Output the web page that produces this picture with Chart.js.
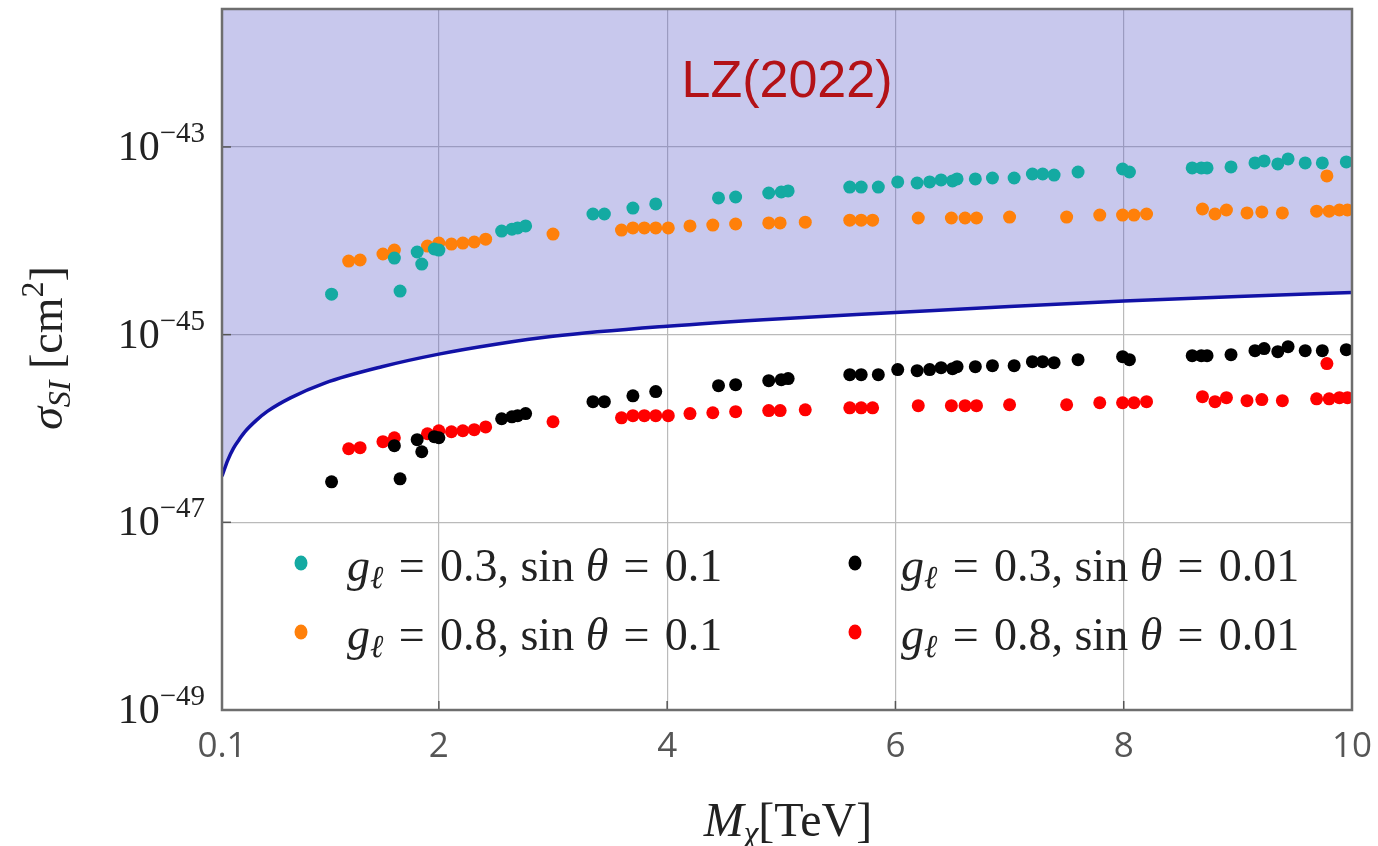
<!DOCTYPE html>
<html><head><meta charset="utf-8">
<script src="https://cdn.jsdelivr.net/npm/chart.js@4.4.1/dist/chart.umd.min.js"></script>
<style>html,body{margin:0;padding:0;background:#fff;}canvas{display:block;}</style>
</head><body>
<canvas id="c" width="1378" height="846"></canvas>
<script>
// ---------- data ----------
const massCyan = [1.06,1.61,1.66,1.81,1.85,1.96,2.00,2.55,2.64,2.69,2.76,3.35,3.45,3.70,3.90,4.45,4.60,4.89,5.00,5.06,5.60,5.70,5.85,6.02,6.19,6.30,6.40,6.50,6.54,6.70,6.85,7.04,7.20,7.29,7.39,7.60,7.99,8.05,8.60,8.68,8.73,8.94,9.15,9.23,9.35,9.44,9.59,9.74,9.95];
const sigmaCyan = [2.70e-45,6.55e-45,2.91e-45,7.59e-45,5.65e-45,8.17e-45,7.96e-45,1.27e-44,1.33e-44,1.37e-44,1.44e-44,1.93e-44,1.93e-44,2.23e-44,2.47e-44,2.86e-44,2.93e-44,3.23e-44,3.31e-44,3.40e-44,3.74e-44,3.74e-44,3.74e-44,4.24e-44,4.13e-44,4.24e-44,4.45e-44,4.34e-44,4.56e-44,4.56e-44,4.67e-44,4.67e-44,5.15e-44,5.15e-44,5.02e-44,5.41e-44,5.82e-44,5.41e-44,5.97e-44,5.97e-44,5.97e-44,6.12e-44,6.75e-44,7.10e-44,6.59e-44,7.45e-44,6.75e-44,6.75e-44,6.92e-44];

const massOrange = [1.21,1.31,1.51,1.61,1.90,2.00,2.11,2.21,2.31,2.41,3.00,3.60,3.70,3.80,3.90,4.01,4.20,4.40,4.60,4.89,4.99,5.21,5.60,5.70,5.80,6.20,6.49,6.61,6.71,7.00,7.50,7.79,7.99,8.09,8.20,8.69,8.80,8.90,9.08,9.21,9.39,9.69,9.80,9.89,9.96,9.78];
const sigmaOrange = [6.08e-45,6.24e-45,7.23e-45,7.96e-45,8.79e-45,9.46e-45,9.23e-45,9.46e-45,9.71e-45,1.04e-44,1.18e-44,1.30e-44,1.37e-44,1.37e-44,1.37e-44,1.37e-44,1.44e-44,1.47e-44,1.51e-44,1.55e-44,1.55e-44,1.58e-44,1.66e-44,1.66e-44,1.66e-44,1.75e-44,1.75e-44,1.75e-44,1.75e-44,1.79e-44,1.79e-44,1.88e-44,1.88e-44,1.88e-44,1.93e-44,2.18e-44,1.93e-44,2.13e-44,1.98e-44,2.03e-44,1.98e-44,2.07e-44,2.07e-44,2.13e-44,2.13e-44,4.91e-44];

const massBlack = [1.06,1.61,1.66,1.81,1.85,1.96,2.00,2.55,2.64,2.69,2.76,3.35,3.45,3.70,3.90,4.45,4.60,4.89,5.00,5.06,5.60,5.70,5.85,6.02,6.19,6.30,6.40,6.50,6.54,6.70,6.85,7.04,7.20,7.29,7.39,7.60,7.99,8.05,8.60,8.68,8.73,8.94,9.15,9.23,9.35,9.44,9.59,9.74,9.95];
const sigmaBlack = [2.70e-47,6.55e-47,2.91e-47,7.59e-47,5.65e-47,8.17e-47,7.96e-47,1.27e-46,1.33e-46,1.37e-46,1.44e-46,1.93e-46,1.93e-46,2.23e-46,2.47e-46,2.86e-46,2.93e-46,3.23e-46,3.31e-46,3.40e-46,3.74e-46,3.74e-46,3.74e-46,4.24e-46,4.13e-46,4.24e-46,4.45e-46,4.34e-46,4.56e-46,4.56e-46,4.67e-46,4.67e-46,5.15e-46,5.15e-46,5.02e-46,5.41e-46,5.82e-46,5.41e-46,5.97e-46,5.97e-46,5.97e-46,6.12e-46,6.75e-46,7.10e-46,6.59e-46,7.45e-46,6.75e-46,6.75e-46,6.92e-46];

const massRed = [1.21,1.31,1.51,1.61,1.90,2.00,2.11,2.21,2.31,2.41,3.00,3.60,3.70,3.80,3.90,4.01,4.20,4.40,4.60,4.89,4.99,5.21,5.60,5.70,5.80,6.20,6.49,6.61,6.71,7.00,7.50,7.79,7.99,8.09,8.20,8.69,8.80,8.90,9.08,9.21,9.39,9.69,9.80,9.89,9.96,9.78];
const sigmaRed = [6.08e-47,6.24e-47,7.23e-47,7.96e-47,8.79e-47,9.46e-47,9.23e-47,9.46e-47,9.71e-47,1.04e-46,1.18e-46,1.30e-46,1.37e-46,1.37e-46,1.37e-46,1.37e-46,1.44e-46,1.47e-46,1.51e-46,1.55e-46,1.55e-46,1.58e-46,1.66e-46,1.66e-46,1.66e-46,1.75e-46,1.75e-46,1.75e-46,1.75e-46,1.79e-46,1.79e-46,1.88e-46,1.88e-46,1.88e-46,1.93e-46,2.18e-46,1.93e-46,2.13e-46,1.98e-46,2.03e-46,1.98e-46,2.07e-46,2.07e-46,2.13e-46,2.13e-46,4.91e-46];

const lzMass  = [0.10,0.15,0.20,0.25,0.30,0.40,0.50,0.70,1.00,1.50,2.00,2.50,3.00,4.00,5.00,6.00,7.00,8.00,9.00,10.0];
const lzSigma = [3.10e-47,4.58e-47,6.15e-47,7.60e-47,9.20e-47,1.22e-46,1.53e-46,2.12e-46,3.05e-46,4.55e-46,6.20e-46,7.90e-46,9.60e-46,1.23e-45,1.48e-45,1.72e-45,2.00e-45,2.28e-45,2.55e-45,2.82e-45];

const xTickValues = [0.1,2,4,6,8,10];
const xTickLabels = ['0.1','2','4','6','8','10'];
const yTickValues = [1e-49,1e-47,1e-45,1e-43];
const yTickExponents = ['\u221249','\u221247','\u221245','\u221243'];

const legendCoupling = ['0.3','0.8','0.3','0.8'];
const legendMixing = ['0.1','0.1','0.01','0.01'];
const seriesColors = ['#14aaa2','#ff800a','#000000','#ff0000'];
const limitLabel = 'LZ(2022)';

// ---------- chart ----------
const toPts = (xs, ys) => xs.map((v, i) => ({x: v, y: ys[i]}));
const SERIF = '"Liberation Serif", "DejaVu Serif", serif';
const SP = '\u2004';

function drawRuns(ctx, runs, x, y, align) {
  let total = 0;
  runs.forEach(r => { ctx.font = (r.italic ? 'italic ' : '') + r.size + 'px ' + SERIF; r.w = ctx.measureText(r.t).width; total += r.w; });
  let cx = align === 'right' ? x - total : align === 'center' ? x - total / 2 : x;
  ctx.textAlign = 'left';
  ctx.textBaseline = 'alphabetic';
  runs.forEach(r => { ctx.font = (r.italic ? 'italic ' : '') + r.size + 'px ' + SERIF; ctx.fillText(r.t, cx, y + (r.dy || 0)); cx += r.w; });
  return total;
}

const overlay = {
  id: 'overlay',
  afterDraw(chart) {
    const {ctx, chartArea: a, scales: {x, y}} = chart;
    ctx.save();
    ctx.strokeStyle = '#555'; ctx.lineWidth = 1.5;
    xTickValues.slice(1, -1).forEach(v => { const px = x.getPixelForValue(v); ctx.beginPath(); ctx.moveTo(px, a.bottom); ctx.lineTo(px, a.bottom - 9); ctx.stroke(); });
    yTickValues.slice(1).forEach(v => { const py = y.getPixelForValue(v); ctx.beginPath(); ctx.moveTo(a.left, py); ctx.lineTo(a.left + 9, py); ctx.stroke(); });
    ctx.strokeStyle = '#6e6e6e'; ctx.lineWidth = 2.5;
    ctx.strokeRect(a.left, a.top, a.right - a.left, a.bottom - a.top);

    ctx.fillStyle = '#222';
    yTickValues.forEach((v, i) => {
      const py = y.getPixelForValue(v);
      drawRuns(ctx, [{t: '10', size: 42}, {t: yTickExponents[i], size: 29, dy: -18}], 205, py + 13, 'right');
    });

    ctx.fillStyle = '#b31217';
    ctx.font = '52px "Liberation Sans", Arial, sans-serif';
    ctx.textAlign = 'center'; ctx.textBaseline = 'alphabetic';
    ctx.fillText(limitLabel, 787, 97);

    const cols = [[301, 347], [301, 347], [855, 901], [855, 901]];
    const rows = [0, 1, 0, 1];
    for (let i = 0; i < 4; i++) {
      const dotY = 563 + rows[i] * 69, baseY = 581 + rows[i] * 69;
      ctx.fillStyle = seriesColors[i];
      ctx.beginPath(); ctx.ellipse(cols[i][0], dotY, 6.5, 7.5, 0, 0, Math.PI * 2); ctx.fill();
      ctx.fillStyle = '#222';
      drawRuns(ctx, [
        {t: 'g', size: 46, italic: true},
        {t: '\u2113', size: 32, italic: true, dy: 7},
        {t: SP + '=' + SP + legendCoupling[i] + ', sin ', size: 46},
        {t: '\u03B8', size: 46, italic: true},
        {t: SP + '=' + SP + legendMixing[i], size: 46}
      ], cols[i][1], baseY, 'left');
    }

    ctx.fillStyle = '#222';
    drawRuns(ctx, [
      {t: 'M', size: 48, italic: true},
      {t: '\u03C7', size: 33, italic: true, dy: 8},
      {t: '[TeV]', size: 48}
    ], 788, 836, 'center');

    ctx.translate(62, 348);
    ctx.rotate(-Math.PI / 2);
    drawRuns(ctx, [
      {t: '\u03C3', size: 46, italic: true},
      {t: 'SI', size: 32, italic: true, dy: 8},
      {t: ' [cm', size: 46},
      {t: '2', size: 32, dy: -19},
      {t: ']', size: 46}
    ], 0, 0, 'center');
    ctx.restore();
  }
};

const gridColor = '#bababa';
new Chart(document.getElementById('c'), {
  type: 'scatter',
  data: {
    datasets: [
      {label: 'g=0.3, sin=0.1', data: toPts(massCyan, sigmaCyan), backgroundColor: seriesColors[0], pointRadius: 6.5, borderWidth: 0},
      {label: 'g=0.8, sin=0.1', data: toPts(massOrange, sigmaOrange), backgroundColor: seriesColors[1], pointRadius: 6.5, borderWidth: 0},
      {label: 'g=0.3, sin=0.01', data: toPts(massBlack, sigmaBlack), backgroundColor: seriesColors[2], pointRadius: 6.5, borderWidth: 0},
      {label: 'g=0.8, sin=0.01', data: toPts(massRed, sigmaRed), backgroundColor: seriesColors[3], pointRadius: 6.5, borderWidth: 0},
      {label: limitLabel, type: 'line', data: toPts(lzMass, lzSigma), showLine: true, pointRadius: 0,
       borderColor: '#1212a6', borderWidth: 3.5, cubicInterpolationMode: 'monotone',
       fill: 'end', backgroundColor: 'rgba(98,98,204,0.35)'}
    ]
  },
  options: {
    responsive: false,
    animation: false,
    events: [],
    layout: {padding: {left: 222, right: 26, top: 9, bottom: 62}},
    plugins: {legend: {display: false}, tooltip: {enabled: false}},
    scales: {
      x: {
        type: 'linear', min: 0.1, max: 10,
        afterBuildTicks: s => { s.ticks = xTickValues.map(v => ({value: v})); },
        afterFit: s => { s.paddingLeft = 0; s.paddingRight = 0; },
        ticks: {
          callback: (v, i) => xTickLabels[i],
          font: {family: '"Open Sans", sans-serif', size: 35},
          color: '#555', padding: 16, maxRotation: 0, autoSkip: false
        },
        grid: {color: gridColor, lineWidth: 1.2, drawTicks: false},
        border: {display: false}
      },
      y: {
        type: 'logarithmic', min: 1e-49, max: Math.pow(10, -41.53),
        afterBuildTicks: s => { s.ticks = yTickValues.map(v => ({value: v})); },
        ticks: {display: false},
        grid: {color: gridColor, lineWidth: 1.2, drawTicks: false},
        border: {display: false}
      }
    }
  },
  plugins: [overlay]
});
</script>
</body></html>
